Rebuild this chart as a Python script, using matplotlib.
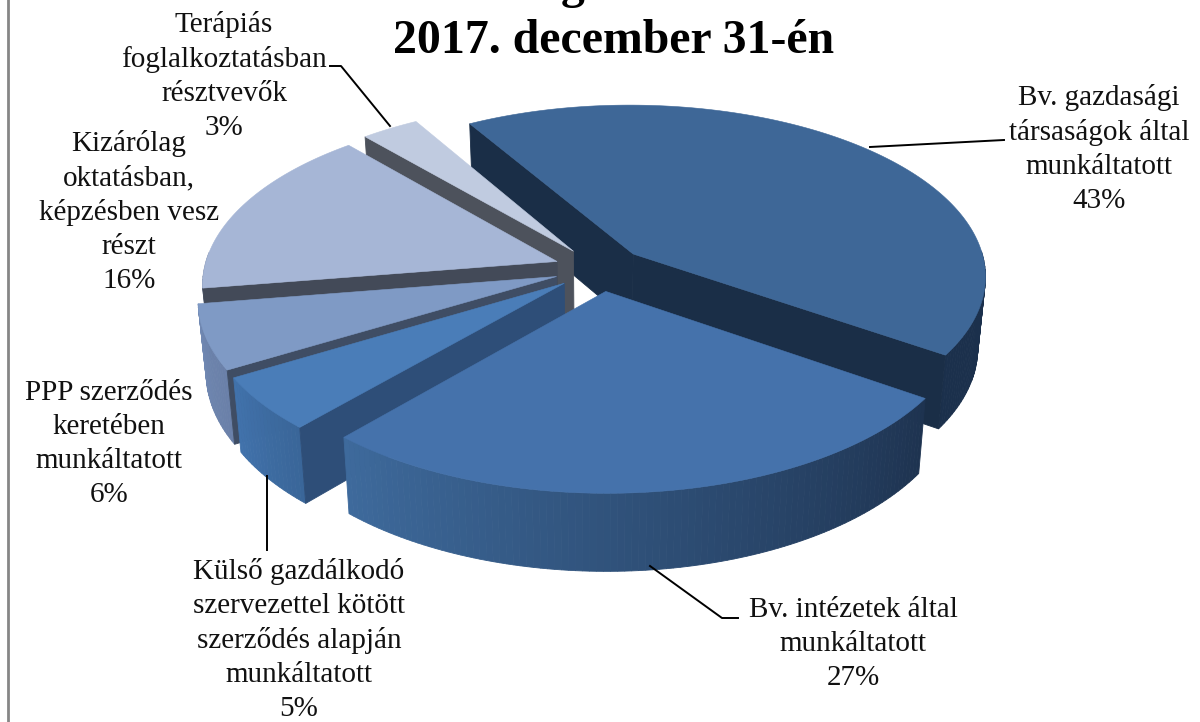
import numpy as np
import matplotlib
matplotlib.use("Agg")
import matplotlib.pyplot as plt
from matplotlib.colors import to_rgb

# --- adatok
labels = ["Bv. gazdasági\ntársaságok által\nmunkáltatott\n43%",
          "Bv. intézetek által\nmunkáltatott\n27%",
          "Külső gazdálkodó\nszervezettel kötött\nszerződés alapján\nmunkáltatott\n5%",
          "PPP szerződés\nkeretében\nmunkáltatott\n6%",
          "Kizárólag\noktatásban,\nképzésben vesz\nrészt\n16%",
          "Terápiás\nfoglalkoztatásban\nrésztvevők\n3%"]
shares = [43, 27, 5, 6, 16, 3]
title_line = "2017. december 31-én"

top_colors = ["#3E6797", "#4572AB", "#4A7DB8", "#7F9AC5", "#A6B6D6", "#C0CBE0"]
cut_colors = ["#1A2E47", "#1A2E47", "#2E4E78", "#3F4D64", "#434A58", "#4D525C"]
wall_from = ["#1B304C", "#1E3350", "#3A6699", "#6A80A8", "#7F8CA8", "#8A93A8"]
wall_to = ["#1B304C", "#3E6A9C", "#4172AB", "#7088B2", "#8A9AB8", "#8A93A8"]

# a reteg sorrendje: hatulrol elore
draw_order = [0, 5, 4, 3, 2, 1]

# --- vetites (perspektiva)
cx, cy = 600, 269
R, k, p = 353, 0.484, 0.124
H, q = 71, 0.98
explode = 0.13
start = -30.5


def project(u, v, low=False):
    s = 1 / (1 - p * v)
    if low:
        return cx + q * R * u * s, cy + R * k * v * s * q + H * s
    return cx + R * u * s, cy + R * k * v * s


def faces_viewer(ax0, ay0, px, py, mx, my):
    # lathato a vagott lap, ha a szelet belseje az el folott van
    side_inner = (px - ax0) * (my - ay0) - (py - ay0) * (mx - ax0)
    side_down = (px - ax0) * 1.0
    return side_inner * side_down < 0


plt.rcParams["font.family"] = ["Liberation Serif", "DejaVu Serif"]
fig = plt.figure(figsize=(12, 7.22), dpi=100)
ax = fig.add_axes([0, 0, 1, 1])
ax.set_xlim(0, 1200)
ax.set_ylim(722, 0)
ax.axis("off")

ax.plot([8, 8], [0, 722], color="#868686", lw=2)

edges = start + np.cumsum([0] + shares) * 3.6
for order, i in enumerate(draw_order):
    z = 2 + order
    t0, t1 = edges[i], edges[i + 1]
    mid = np.radians((t0 + t1) / 2)
    ou, ov = explode * np.sin(mid), -explode * np.cos(mid)
    th = np.radians(np.linspace(t0, t1, max(int(t1 - t0), 2) + 1))
    u = ou + np.sin(th)
    v = ov - np.cos(th)
    xt, yt = project(u, v)
    xb, yb = project(u, v, low=True)

    # kulso fal, szinatmenettel
    c0, c1 = np.array(to_rgb(wall_from[i])), np.array(to_rgb(wall_to[i]))
    for j in range(len(th) - 1):
        if v[j] < -0.1 and v[j + 1] < -0.1:
            continue
        c = c0 + (c1 - c0) * j / max(len(th) - 2, 1)
        ax.fill([xt[j], xt[j + 1], xb[j + 1], xb[j]],
                [yt[j], yt[j + 1], yb[j + 1], yb[j]],
                color=c, lw=0.6, zorder=z)

    # vagott lapok, csak a lathatok
    ax_t, ay_t = project(ou, ov)
    ax_b, ay_b = project(ou, ov, low=True)
    mx, my = xt[len(th) // 2], yt[len(th) // 2]
    for e in (0, -1):
        if faces_viewer(ax_t, ay_t, xt[e], yt[e], mx, my):
            ax.fill([ax_t, xt[e], xb[e], ax_b], [ay_t, yt[e], yb[e], ay_b],
                    color=cut_colors[i], lw=0.6, zorder=z)

    # felso lap
    ax.fill(np.r_[ax_t, xt], np.r_[ay_t, yt], color=top_colors[i], lw=0.4, zorder=z)

# --- vezetovonalak
leaders = [([1004, 870], [140, 147]),
           ([738, 722, 650], [618, 618, 566]),
           ([267, 267], [476, 550]),
           ([330, 341, 390], [66, 66, 126])]
for lx, ly in leaders:
    ax.plot(lx, ly, color="black", lw=1.4, zorder=10)

# --- feliratok
positions = [(1099, 149), (853, 644), (299, 640), (109, 444), (129, 212), (224, 76)]
for lab, (tx, ty) in zip(labels, positions):
    ax.text(tx, ty, lab, ha="center", va="center", fontsize=21, linespacing=1.39,
            color="#111111", zorder=11)

ax.text(614, 53, title_line, ha="center", va="baseline", fontsize=34.4, fontweight="bold",
        color="black", zorder=11)
ax.text(573, -2, "g", ha="center", va="baseline", fontsize=34.4, fontweight="bold",
        color="black", zorder=11, clip_on=False)

fig.savefig("out.png", dpi=100)
